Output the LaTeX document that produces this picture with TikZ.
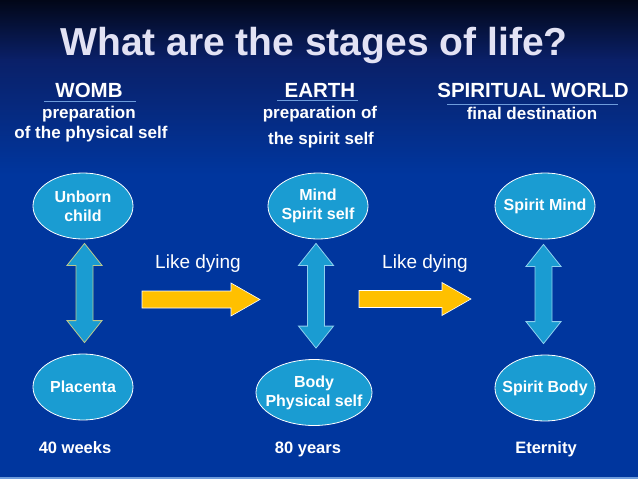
\documentclass[tikz,border=0pt]{standalone}
\usepackage{fontspec}
\setmainfont{Liberation Sans}
\usetikzlibrary{shapes.geometric,calc}
\definecolor{slideblue}{HTML}{00369E}
\definecolor{slidemid}{HTML}{0A2068}
\definecolor{slidenavy}{HTML}{020718}
\definecolor{stagecyan}{HTML}{1A9CD2}
\definecolor{stageyellow}{HTML}{FFC000}
\definecolor{titlegray}{HTML}{E2E2F4}
\definecolor{rulegray}{HTML}{6E9CDC}
\definecolor{linkolive}{HTML}{BCC88C}
\definecolor{linklight}{HTML}{8FD0EE}
\tikzset{
  stage/.style={ellipse,fill=stagecyan,draw=white,line width=0.8pt,
    minimum width=100pt,minimum height=66pt,inner xsep=-8pt,inner ysep=0pt,
    text=white,align=center,font=\bfseries\fontsize{16}{19}\selectfont},
  slidetitle/.style={text=titlegray,anchor=base,
    font=\bfseries\fontsize{39}{44}\selectfont},
  heading/.style={text=white,anchor=base,font=\bfseries\fontsize{20.5}{24}\selectfont},
  subheading/.style={text=white,anchor=base,font=\bfseries\fontsize{17}{20}\selectfont},
  duration/.style={text=white,anchor=base,font=\bfseries\fontsize{16.5}{19}\selectfont},
  transit/.style={text=white,anchor=base,font=\fontsize{19}{22}\selectfont},
  link/.style={fill=stagecyan,draw=linklight,line width=0.8pt},
  passage/.style={fill=stageyellow,draw=white,line width=0.6pt},
  headrule/.style={draw=rulegray,line width=0.8pt}
}
% fat vertical double arrow: #2 top tip, #3 bottom tip
\newcommand{\vdouble}[3][]{%
  \path[link,#1] let \p1=(#2), \p2=(#3) in
    (\x1,\y1) -- (\x1+17.5pt,\y1-22pt) -- (\x1+8.5pt,\y1-22pt)
    -- (\x1+8.5pt,\y2+22pt) -- (\x1+17.5pt,\y2+22pt) -- (\x1,\y2)
    -- (\x1-17.5pt,\y2+22pt) -- (\x1-8.5pt,\y2+22pt)
    -- (\x1-8.5pt,\y1-22pt) -- (\x1-17.5pt,\y1-22pt) -- cycle;}
% fat arrow to the right: #1 tail, #2 tip
\newcommand{\fatright}[2]{%
  \path[passage] let \p1=(#1), \p2=(#2) in
    (\x1,\y1+8.5pt) -- (\x2-29pt,\y1+8.5pt) -- (\x2-29pt,\y1+16.5pt)
    -- (\x2,\y1) -- (\x2-29pt,\y1-16.5pt) -- (\x2-29pt,\y1-8.5pt)
    -- (\x1,\y1-8.5pt) -- cycle;}

\begin{document}
\begin{tikzpicture}[x=1pt,y=-1pt]
  \useasboundingbox (0,0) rectangle (638,479);
  % background
  \fill[slideblue] (0,0) rectangle (638,479);
  \shade[top color=slidenavy,bottom color=slidemid] (0,0) rectangle (638,60);
  \shade[top color=slidemid,bottom color=slideblue] (0,59.5) rectangle (638,175);
  \draw[draw=rulegray,line width=2pt] (0,478) -- (638,478);

  \node[slidetitle] (title) at (314,55) {What are the stages of life?};

  % headings
  \node[heading] (womb) at (89,97) {WOMB};
  \node[subheading] (wombsub1) at (89,118) {preparation};
  \node[subheading] (wombsub2) at (91,138) {of the physical self};
  \node[heading] (earth) at (320,97) {EARTH};
  \node[subheading] (earthsub1) at (320,118) {preparation of};
  \node[subheading] (earthsub2) at (321,144) {the spirit self};
  \node[heading] (world) at (533,97) {SPIRITUAL WORLD};
  \node[subheading] (worldsub) at (532,119) {final destination};
  \draw[headrule] (44,101) -- (136,101);
  \draw[headrule] (277,100) -- (358,100);
  \draw[headrule] (447,104) -- (618,104);

  % stages
  \node[stage] (unborn) at (83,206) {Unborn\\child};
  \node[stage] (placenta) at (83,387) {Placenta};
  \node[stage] (mind) at (318,206) {Mind\\Spirit self};
  \node[stage,minimum width=116pt] (body) at (314,392.5) {Body\\Physical self};
  \node[stage] (smind) at (545,206) {Spirit Mind};
  \node[stage] (sbody) at (545,388) {Spirit Body};

  \vdouble[draw=linkolive]{$(unborn.south)+(1.5pt,-4pt)$}{$(placenta.north)+(0,11pt)$}
  \vdouble{$(mind.south)+(-2pt,-4pt)$}{$(body.north)+(0,11pt)$}
  \vdouble{$(smind.south)+(-1.5pt,-5pt)$}{$(sbody.north)+(0,11pt)$}

  % passages
  \coordinate (die1a) at (142,299.5);
  \coordinate (die1b) at (260,299.5);
  \coordinate (die2a) at (359,299);
  \coordinate (die2b) at (471,299);
  \fatright{die1a}{die1b}
  \fatright{die2a}{die2b}
  \node[transit] (like1) at (198,268) {Like dying};
  \node[transit] (like2) at (425,268) {Like dying};

  % durations
  \node[duration] (weeks) at (75,453) {40 weeks};
  \node[duration] (years) at (308,453) {80 years};
  \node[duration] (eternity) at (546,453) {Eternity};
\end{tikzpicture}
\end{document}
